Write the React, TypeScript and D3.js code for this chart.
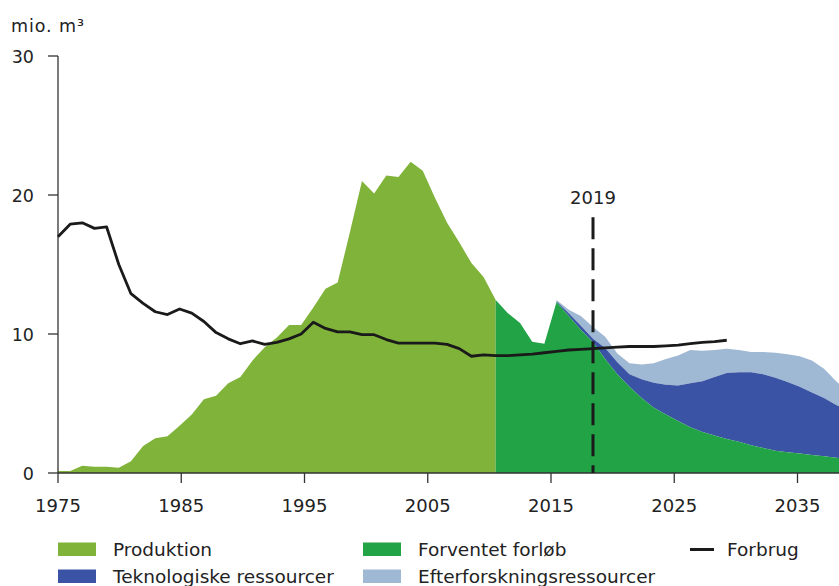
import React from "react";
import * as d3 from "d3";

// ---- Data ----
const productionYears = d3.range(1975, 2012);
const production = [
  0.15, 0.15, 0.52, 0.45, 0.45, 0.37, 0.85, 1.95, 2.5, 2.65,
  3.4, 4.2, 5.3, 5.55, 6.45, 6.9, 8.1, 9.05, 9.75, 10.65,
  10.65, 11.9, 13.25, 13.7, 17.3, 21.0, 20.1, 21.4, 21.3, 22.4,
  21.75, 19.8, 18.0, 16.6, 15.1, 14.1, 12.45,
];

const forecastYears = d3.range(2011, 2041);
const forventet = [
  12.45, 11.5, 10.8, 9.45, 9.3, 12.3, 11.3, 10.3, 9.4, 8.2,
  7.1, 6.2, 5.4, 4.7, 4.2, 3.75, 3.3, 2.95, 2.7, 2.45,
  2.25, 2.0, 1.8, 1.6, 1.5, 1.4, 1.3, 1.2, 1.1, 1.0,
];

const resourceYears = d3.range(2016, 2041);
const teknologiske = [
  0.05, 0.2, 0.3, 0.25, 0.8, 0.87, 0.9, 1.35, 1.8, 2.15,
  2.55, 3.15, 3.65, 4.2, 4.75, 5.0, 5.25, 5.3, 5.25, 5.05,
  4.8, 4.5, 4.2, 3.8, 3.5,
];
const efterforskning = [
  0.1, 0.25, 0.7, 0.85, 0.8, 0.63, 0.8, 1.05, 1.4, 1.85,
  2.15, 2.4, 2.2, 1.95, 1.73, 1.6, 1.45, 1.6, 1.8, 2.0,
  2.2, 2.3, 2.1, 1.7, 1.3,
];

const consumptionYears = d3.range(1975, 2031);
const forbrug = [
  17.0, 17.9, 18.0, 17.6, 17.7, 15.0, 12.9, 12.2, 11.6, 11.4,
  11.8, 11.5, 10.9, 10.1, 9.65, 9.3, 9.5, 9.25, 9.4, 9.65,
  10.0, 10.85, 10.4, 10.15, 10.15, 9.95, 9.95, 9.6, 9.35, 9.35,
  9.35, 9.35, 9.25, 8.95, 8.4, 8.5, 8.45, 8.45, 8.5, 8.55,
  8.65, 8.75, 8.85, 8.9, 8.95, 9.0, 9.05, 9.1, 9.1, 9.1,
  9.15, 9.2, 9.3, 9.4, 9.45, 9.55,
];

const xTickValues = [1975, 1985, 1995, 2005, 2015, 2025, 2035];
const yTickValues = [0, 10, 20, 30];
const markerYear = 2019;
const markerLabel = "2019";
const unitLabel = "mio. m³";

const legendItems = [
  { label: "Produktion", color: "#80b33a", type: "rect" },
  { label: "Forventet forløb", color: "#21a346", type: "rect" },
  { label: "Forbrug", color: "#1a1a1a", type: "line" },
  { label: "Teknologiske ressourcer", color: "#3a53a4", type: "rect" },
  { label: "Efterforskningsressourcer", color: "#9fb8d3", type: "rect" },
];

// ---- Layout ----
const W = 839;
const H = 586;
const left = 58;
const top = 56;
const bottom = 473;
const FONT = "'DejaVu Sans', Verdana, sans-serif";

export default function App() {
  const x = d3.scaleLinear().domain([1975, 2019]).range([left, 593]);
  // the original's axis ticks are spaced slightly wider than the data
  const xAxis = d3.scaleLinear().domain([1975, 2035]).range([left, 797.5]);
  const y = d3.scaleLinear().domain([0, 30]).range([bottom, top]);

  const prodArea = d3
    .area<number>()
    .x((_, i) => x(productionYears[i]))
    .y0(y(0))
    .y1((d) => y(d));

  const fcArea = d3
    .area<number>()
    .x((_, i) => x(forecastYears[i]))
    .y0(y(0))
    .y1((d) => y(d));

  const offset = forecastYears.indexOf(2016);
  const rows = resourceYears.map((yr, i) => ({
    year: yr,
    forventet: forventet[offset + i],
    tek: teknologiske[i],
    eft: efterforskning[i],
  }));
  const stacked = d3.stack<any>().keys(["forventet", "tek", "eft"])(rows);
  const stackArea = d3
    .area<any>()
    .x((d) => x(d.data.year))
    .y0((d) => y(d[0]))
    .y1((d) => y(d[1]));

  const line = d3
    .line<number>()
    .x((_, i) => x(consumptionYears[i]))
    .y((d) => y(d));

  const legendCols = [58, 363, 690];
  const legendRows = [549.5, 576.5];

  return (
    <svg
      width={W}
      height={H}
      style={{ position: "fixed", left: 0, top: 0, background: "#fff" }}
      fontFamily={FONT}
    >
      <defs>
        <clipPath id="plot">
          <rect x={left} y={0} width={W - left} height={bottom} />
        </clipPath>
      </defs>
      <g clipPath="url(#plot)">
        <path d={prodArea(production) || ""} fill="#80b33a" />
        <path d={stackArea(stacked[2]) || ""} fill="#9fb8d3" />
        <path d={stackArea(stacked[1]) || ""} fill="#3a53a4" />
        <path d={fcArea(forventet) || ""} fill="#21a346" />
      </g>

      {/* axes */}
      <line x1={left} x2={left} y1={y(30)} y2={y(0)} stroke="#333" strokeWidth={1.3} />
      <line x1={left} x2={W} y1={y(0)} y2={y(0)} stroke="#333" strokeWidth={1.3} />
      {yTickValues.map((t) => (
        <g key={t}>
          <line x1={left - 10} x2={left} y1={y(t)} y2={y(t)} stroke="#333" strokeWidth={1.3} />
          <text x={34} y={y(t) + 6.5} textAnchor="end" fontSize={17.5} fill="#222">
            {t}
          </text>
        </g>
      ))}
      {xTickValues.map((t) => (
        <g key={t}>
          <line x1={xAxis(t)} x2={xAxis(t)} y1={y(0)} y2={y(0) + 10} stroke="#333" strokeWidth={1.3} />
          <text x={xAxis(t)} y={512} textAnchor="middle" fontSize={18} fill="#222">
            {t}
          </text>
        </g>
      ))}
      <text x={11} y={32} fontSize={17.5} letterSpacing={0.9} fill="#222">
        {unitLabel}
      </text>

      {/* 2019 marker */}
      <line
        x1={x(markerYear)}
        x2={x(markerYear)}
        y1={y(18.4)}
        y2={y(0)}
        stroke="#1a1a1a"
        strokeWidth={3}
        strokeDasharray="22 9"
      />
      <text x={x(markerYear)} y={204} textAnchor="middle" fontSize={18} fill="#222">
        {markerLabel}
      </text>

      {/* consumption */}
      <path
        d={line(forbrug) || ""}
        fill="none"
        stroke="#1a1a1a"
        strokeWidth={2.8}
        strokeLinejoin="round"
      />

      {/* legend */}
      {legendItems.map((it, i) => {
        const col = i % 3;
        const row = Math.floor(i / 3);
        const lx = legendCols[col];
        const ly = legendRows[row];
        return (
          <g key={it.label}>
            {it.type === "rect" ? (
              <rect x={lx} y={ly - 7} width={38} height={13.5} fill={it.color} />
            ) : (
              <line x1={lx} x2={lx + 24} y1={ly} y2={ly} stroke={it.color} strokeWidth={3} />
            )}
            <text
              x={it.type === "rect" ? lx + 55 : lx + 37}
              y={ly + 6.7}
              fontSize={18.5}
              fill="#222"
            >
              {it.label}
            </text>
          </g>
        );
      })}
    </svg>
  );
}
